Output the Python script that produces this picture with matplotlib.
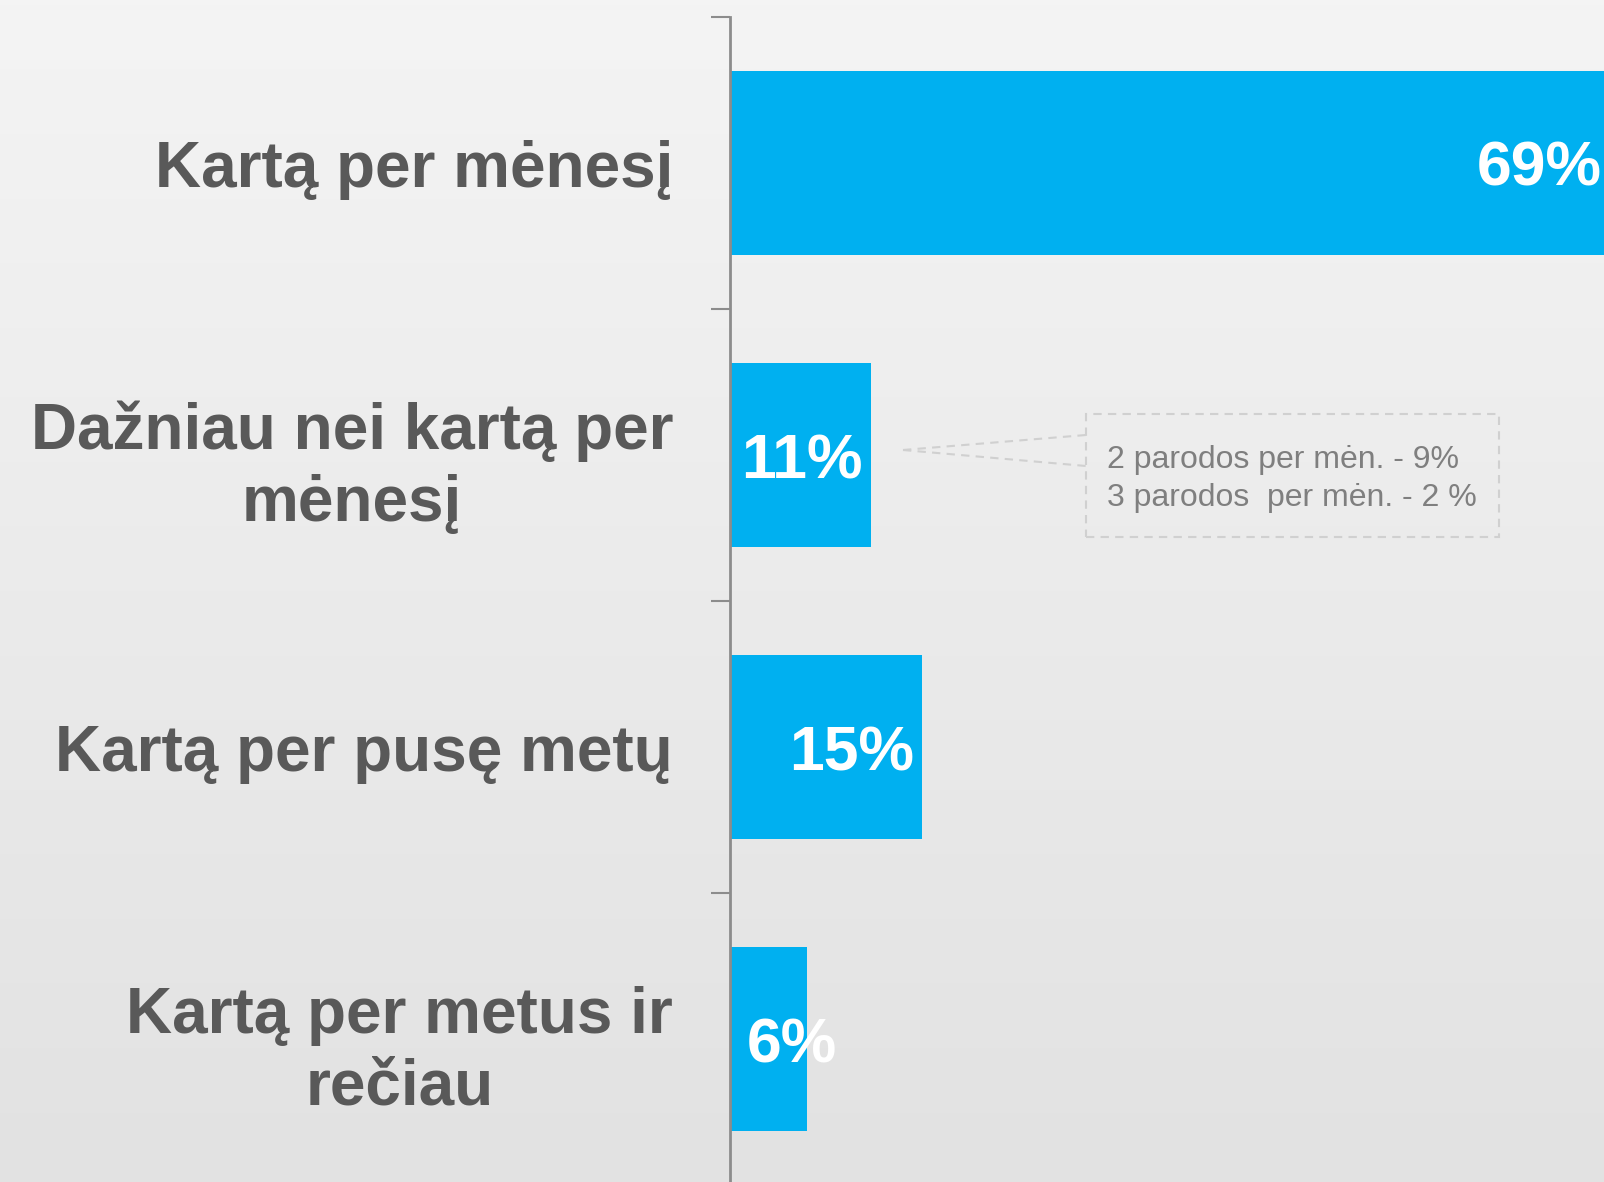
import matplotlib
matplotlib.use("Agg")
import matplotlib.pyplot as plt
import numpy as np
from matplotlib.patches import Rectangle
from matplotlib.lines import Line2D
from matplotlib.colors import LinearSegmentedColormap

categories = ["Kartą per mėnesį", "Dažniau nei kartą per\nmėnesį",
              "Kartą per pusę metų", "Kartą per metus ir\nrečiau"]
values = [69, 11, 15, 6]
value_labels = ["69%", "11%", "15%", "6%"]
note_lines = ["2 parodos per mėn. - 9%", "3 parodos  per mėn. - 2 %"]

W, H = 1604, 1182
DPI = 100
plt.rcParams['font.family'] = ['Liberation Sans', 'DejaVu Sans']

fig = plt.figure(figsize=(W / DPI, H / DPI), dpi=DPI)

# background gradient
bg = fig.add_axes([0, 0, 1, 1], zorder=0)
grad = np.linspace(0, 1, 256).reshape(-1, 1)
cmap = LinearSegmentedColormap.from_list("bg", ["#f4f4f4", "#e2e2e2"])
bg.imshow(grad, aspect='auto', cmap=cmap, extent=[0, 1, 0, 1], origin='upper')
bg.set_axis_off()

left = 730 / W
top = 1 - 17 / H
bottom = 1 - 1185 / H
ax = fig.add_axes([left, bottom, 1 - left, top - bottom], zorder=1)
ax.patch.set_alpha(0)

y = np.arange(len(categories))
ax.barh(y, values, height=0.63, color="#00B0F0", zorder=2)
xmax = 68.2
ax.set_xlim(0, xmax)
ax.set_ylim(len(categories) - 0.5, -0.5)

for s in ["top", "right", "bottom"]:
    ax.spines[s].set_visible(False)
ax.spines["left"].set_color("#8c8c8c")
ax.spines["left"].set_linewidth(2)
ax.spines["left"].set_zorder(3)

ax.set_xticks([])
ax.set_yticks(y)
ax.set_yticklabels(categories, fontsize=46, fontweight='bold', color="#595959",
                   multialignment='center', linespacing=1.25)
ax.tick_params(axis='y', which='major', length=0, pad=41)
ax.set_yticks(np.arange(-0.5, len(categories), 1.0), minor=True)
ax.tick_params(axis='y', which='minor', length=13.7, width=1.5, color="#8c8c8c")

for yi, v, lab in zip(y, values, value_labels):
    if v > xmax:
        ax.annotate(lab, xy=(xmax, yi), xytext=(-2, -6), textcoords='offset pixels',
                    ha='right', va='center', fontsize=45, fontweight='bold', color='white',
                    zorder=4, annotation_clip=False)
    elif v >= 10:
        ax.annotate(lab, xy=(v, yi), xytext=(-8, -7), textcoords='offset pixels',
                    ha='right', va='center', fontsize=45, fontweight='bold', color='white',
                    zorder=4, annotation_clip=False)
    else:
        ax.annotate(lab, xy=(0, yi), xytext=(17, -7), textcoords='offset pixels',
                    ha='left', va='center', fontsize=45, fontweight='bold', color='white',
                    zorder=4, annotation_clip=False)

# callout box (figure pixel coords)
def fx(px):
    return px / W

def fy(py):
    return 1 - py / H

box_l, box_r, box_t, box_b = 1086, 1499, 414, 537
fig.patches.append(Rectangle((fx(box_l), fy(box_b)), fx(box_r) - fx(box_l), fy(box_t) - fy(box_b),
                             transform=fig.transFigure, fill=False, edgecolor="#d0d0d0",
                             linewidth=1.5, linestyle=(0, (4, 3)), zorder=5))
for ey in (435, 466):
    fig.lines.append(Line2D([fx(903), fx(box_l)], [fy(450), fy(ey)], transform=fig.transFigure,
                            color="#d0d0d0", linewidth=1.5, linestyle=(0, (4, 3)), zorder=5))
fig.text(fx(1107), fy(460), note_lines[0], fontsize=23, color="#7f7f7f", va='center', ha='left', zorder=6)
fig.text(fx(1107), fy(498), note_lines[1], fontsize=23, color="#7f7f7f", va='center', ha='left', zorder=6)

fig.savefig("out.png", dpi=DPI)
